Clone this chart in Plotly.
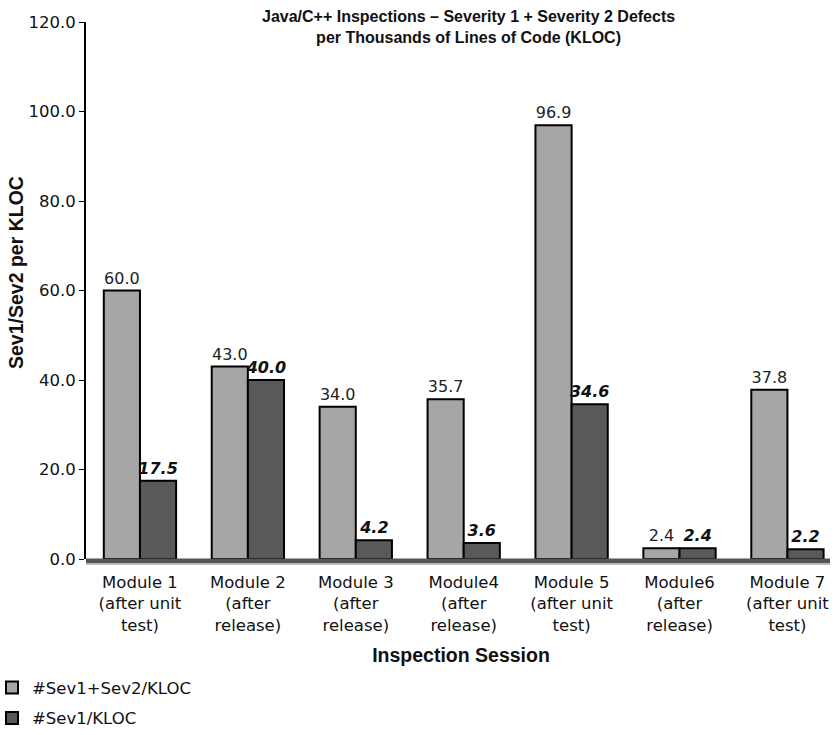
import plotly.graph_objects as go

categories = [
    "Module 1<br>(after unit<br>test)",
    "Module 2<br>(after<br>release)",
    "Module 3<br>(after<br>release)",
    "Module4<br>(after<br>release)",
    "Module 5<br>(after unit<br>test)",
    "Module6<br>(after<br>release)",
    "Module 7<br>(after unit<br>test)",
]
sev12_per_kloc = [60.0, 43.0, 34.0, 35.7, 96.9, 2.4, 37.8]
sev1_per_kloc = [17.5, 40.0, 4.2, 3.6, 34.6, 2.4, 2.2]
y_ticks = [0, 20, 40, 60, 80, 100, 120]

BASE = "DejaVu Sans"
BOLD = "Liberation Sans"

W, H = 836, 735
ML, MR, MT, MB = 86, 0, 22, 176
PW, PH = W - ML - MR, H - MT - MB

fig = go.Figure()
fig.add_trace(go.Bar(
    x=categories, y=sev12_per_kloc, name="#Sev1+Sev2/KLOC",
    marker=dict(color="#a6a6a6", line=dict(color="#000000", width=2)),
    text=sev12_per_kloc, texttemplate="%{y:.1f}", textposition="outside",
    textfont=dict(family=BASE, size=16, color="#222222"),
    constraintext="none", cliponaxis=False, legendgroup="a",
))
fig.add_trace(go.Bar(
    x=categories, y=sev1_per_kloc, name="#Sev1/KLOC",
    marker=dict(color="#595959", line=dict(color="#000000", width=2)),
    text=sev1_per_kloc, texttemplate="<b><i>%{y:.1f}</i></b>", textposition="outside",
    textfont=dict(family=BASE, size=16, color="#111111"),
    constraintext="none", cliponaxis=False, legendgroup="b",
))

# 3D-like floor under the bars (paper-referenced so it is not clipped)
fig.add_shape(type="rect", xref="paper", yref="paper", x0=0, x1=(830 - ML) / PW,
              y0=-4 / PH, y1=0.5 / PH,
              fillcolor="#555555", line=dict(width=0), layer="above")
fig.add_shape(type="rect", xref="paper", yref="paper", x0=0, x1=(830 - ML) / PW,
              y0=-6 / PH, y1=-4 / PH,
              fillcolor="#bbbbbb", line=dict(width=0), layer="above")

fig.add_annotation(
    text="<b>Java/C++ Inspections – Severity 1 + Severity 2 Defects<br>per Thousands of Lines of Code (KLOC)</b>",
    xref="paper", yref="paper", x=(468 - ML) / PW, y=(H - MB - 6) / PH,
    xanchor="center", yanchor="top", showarrow=False,
    font=dict(family=BOLD, size=16, color="#111111"),
)
fig.add_annotation(
    text="<b>Sev1/Sev2 per KLOC</b>", textangle=-90,
    xref="paper", yref="paper", x=(16 - ML) / PW, y=(H - MB - 273) / PH,
    xanchor="center", yanchor="middle", showarrow=False,
    font=dict(family=BOLD, size=19.5, color="#111111"),
)

fig.update_layout(
    width=W, height=H,
    margin=dict(l=ML, r=MR, t=MT, b=MB, autoexpand=False),
    paper_bgcolor="white", plot_bgcolor="white",
    barmode="group", bargap=0.33, bargroupgap=0,
    font=dict(family=BASE, size=16, color="#111111"),
    showlegend=True,
    legend=dict(
        orientation="v", xref="container", yref="container", x=0, xanchor="left",
        y=0.088, yanchor="top", tracegroupgap=6, indentation=-8,
        font=dict(family=BASE, size=16.5, color="#111111"),
        bgcolor="rgba(0,0,0,0)",
    ),
    xaxis=dict(
        type="category", range=[-0.5, 6.45], showline=False, showgrid=False,
        ticks="outside", ticklen=8, tickcolor="rgba(0,0,0,0)",
        tickfont=dict(family=BASE, size=16.5, color="#111111"),
        title=dict(text="<b>Inspection Session</b>", font=dict(family=BOLD, size=19.5), standoff=14),
    ),
    yaxis=dict(
        range=[0, 120], tickvals=y_ticks, tickformat=".1f", showgrid=False, zeroline=False,
        showline=True, linecolor="#000000", linewidth=2, ticks="outside", ticklen=5,
        tickcolor="#000000", tickwidth=1,
        tickfont=dict(family=BASE, size=16.5, color="#111111"),
    ),
)

fig.write_html("out.html")
